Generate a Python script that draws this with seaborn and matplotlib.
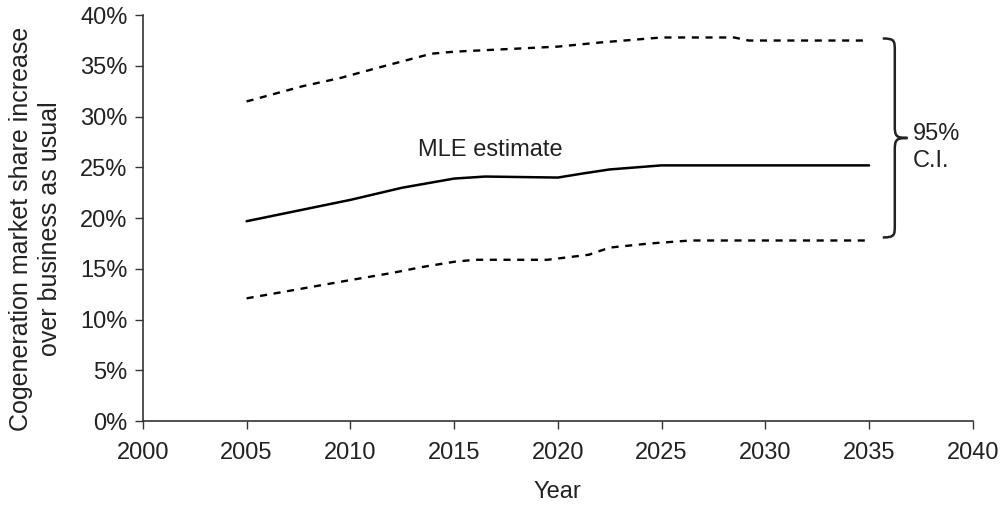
import matplotlib
matplotlib.use("Agg")
import matplotlib.pyplot as plt
from matplotlib.path import Path
from matplotlib.patches import PathPatch
from matplotlib.ticker import PercentFormatter
import seaborn as sns

# MLE estimate (solid line)
mle_years = [2005, 2010, 2012.5, 2015, 2016.5, 2020, 2021.2, 2022.5, 2025, 2035]
mle_share = [19.7, 21.8, 23.0, 23.9, 24.1, 24.0, 24.4, 24.8, 25.2, 25.2]

# upper 95% bound (dotted)
upper_years = [2005, 2007.7, 2009.5, 2011.3, 2013.9, 2015, 2020, 2022, 2025, 2028.5, 2029.2, 2035]
upper_share = [31.5, 33.0, 33.8, 34.8, 36.2, 36.4, 36.9, 37.3, 37.8, 37.8, 37.5, 37.5]

# lower 95% bound (dotted)
lower_years = [2005, 2010, 2012, 2013.5, 2015, 2016, 2019.5, 2021.5, 2022.5, 2024.4, 2026.4, 2035]
lower_share = [12.1, 13.9, 14.6, 15.2, 15.7, 15.9, 15.9, 16.4, 17.1, 17.5, 17.8, 17.8]

x_ticks = list(range(2000, 2041, 5))
y_ticks = list(range(0, 41, 5))

sns.set_style("ticks")
plt.rcParams["font.family"] = ["Liberation Sans", "DejaVu Sans"]
fs = 17
ink = "#222222"

fig = plt.figure(figsize=(10.06, 5.05), dpi=100)
ax = fig.add_axes([0.142, 0.166, 0.825, 0.804])

dots = (0, (3.0, 2.8))
sns.lineplot(x=upper_years, y=upper_share, ax=ax, color="black", lw=1.7, linestyle=dots)
sns.lineplot(x=mle_years, y=mle_share, ax=ax, color="black", lw=1.8)
sns.lineplot(x=lower_years, y=lower_share, ax=ax, color="black", lw=1.7, linestyle=dots)

ax.set_xlim(2000, 2040)
ax.set_ylim(0, 40)
ax.set_xticks(x_ticks)
ax.set_yticks(y_ticks)
ax.yaxis.set_major_formatter(PercentFormatter(decimals=0))
ax.tick_params(axis="both", direction="out", length=6, width=1, color="#333333",
               labelsize=fs, labelcolor=ink, pad=5)
ax.tick_params(axis="x", pad=9)
for side in ["left", "bottom"]:
    ax.spines[side].set_color("#333333")
    ax.spines[side].set_linewidth(1.2)
sns.despine(ax=ax)

ax.set_xlabel("Year", fontsize=fs, color=ink, labelpad=12)
ax.set_ylabel("Cogeneration market share increase\nover business as usual",
              fontsize=18, color=ink, linespacing=1.25)
ax.yaxis.set_label_coords(-0.098, 0.473)

ax.text(2016.75, 26.1, "MLE estimate", fontsize=fs, color=ink, ha="center", va="baseline")

# curly brace spanning the confidence interval
top = upper_share[-1] + 0.2
bot = lower_share[-1] + 0.3
mid = (top + bot) / 2
x0, x1, x2 = 2035.66, 2036.24, 2036.85
c = 1.2
verts = [(x0, top), (x1, top), (x1, top - c * 0.2), (x1, top - c),
         (x1, mid + c),
         (x1, mid + 0.2), (x1 + 0.05, mid), (x2, mid),
         (x1 + 0.05, mid), (x1, mid - 0.2), (x1, mid - c),
         (x1, bot + c),
         (x1, bot + c * 0.2), (x1, bot), (x0, bot)]
codes = [Path.MOVETO, Path.CURVE4, Path.CURVE4, Path.CURVE4,
         Path.LINETO,
         Path.CURVE4, Path.CURVE4, Path.CURVE4,
         Path.CURVE4, Path.CURVE4, Path.CURVE4,
         Path.LINETO,
         Path.CURVE4, Path.CURVE4, Path.CURVE4]
ax.add_patch(PathPatch(Path(verts, codes), fill=False, lw=1.8, color=ink, clip_on=False))
ax.text(2037.1, 27.0, "95%\nC.I.", fontsize=fs, color=ink, ha="left", va="center",
        linespacing=1.3)

fig.savefig("out.png", dpi=100)
